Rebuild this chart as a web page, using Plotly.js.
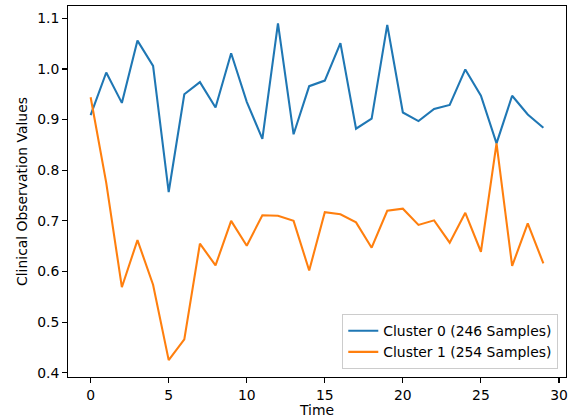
<!DOCTYPE html>
<html>
<head>
<meta charset="utf-8">
<script src="https://cdn.plot.ly/plotly-3.0.1.min.js"></script>
<style>html,body{margin:0;padding:0;background:#fff;}#chart{width:570px;height:418px;}</style>
</head>
<body>
<div id="chart"></div>
<script>
const timePoints = [0,1,2,3,4,5,6,7,8,9,10,11,12,13,14,15,16,17,18,19,20,21,22,23,24,25,26,27,28,29];
const cluster0Values = [0.909,0.993,0.933,1.056,1.006,0.757,0.950,0.974,0.924,1.031,0.935,0.862,1.090,0.871,0.966,0.977,1.051,0.882,0.902,1.087,0.914,0.897,0.921,0.929,0.999,0.947,0.853,0.947,0.910,0.884];
const cluster1Values = [0.944,0.775,0.569,0.662,0.574,0.425,0.466,0.655,0.612,0.700,0.651,0.711,0.710,0.700,0.602,0.717,0.713,0.697,0.647,0.720,0.724,0.692,0.701,0.657,0.716,0.639,0.853,0.611,0.695,0.616];
const seriesNames = ["Cluster 0 (246 Samples)", "Cluster 1 (254 Samples)"];
const xTicks = [0,5,10,15,20,25,30];
const yTicks = [0.4,0.5,0.6,0.7,0.8,0.9,1.0,1.1];

const font = {family: "DejaVu Sans", size: 13.9, color: "#000"};
const traces = [
  {x: timePoints, y: cluster0Values, name: seriesNames[0], type: "scatter", mode: "lines", line: {color: "#1f77b4", width: 2.08}},
  {x: timePoints, y: cluster1Values, name: seriesNames[1], type: "scatter", mode: "lines", line: {color: "#ff7f0e", width: 2.08}}
];
const axisCommon = {
  showgrid: false, zeroline: false, showline: true, mirror: true,
  linecolor: "#000", linewidth: 1.1, ticks: "outside", ticklen: 4.9, tickwidth: 1.1, tickcolor: "#000",
  tickfont: font
};
const layout = {
  width: 570, height: 418,
  margin: {l: 68, r: 4, t: 6, b: 41},
  paper_bgcolor: "#fff", plot_bgcolor: "#fff",
  font: font,
  showlegend: true,
  xaxis: Object.assign({}, axisCommon, {
    range: [-1.45, 30.45], tickvals: xTicks, ticktext: xTicks.map(String),
    title: {text: "Time", font: font, standoff: 1}
  }),
  yaxis: Object.assign({}, axisCommon, {
    range: [0.3917, 1.1243], tickvals: yTicks, ticktext: yTicks.map(v => v.toFixed(1)),
    title: {text: "Clinical Observation Values", font: font, standoff: 6}
  }),
  legend: {
    x: 0.9845, y: 0.0208, xanchor: "right", yanchor: "bottom",
    bgcolor: "rgba(255,255,255,0.8)", bordercolor: "#cccccc", borderwidth: 1,
    font: font, tracegroupgap: 0
  }
};
Plotly.newPlot("chart", traces, layout, {displayModeBar: false, staticPlot: true});
</script>
</body>
</html>
